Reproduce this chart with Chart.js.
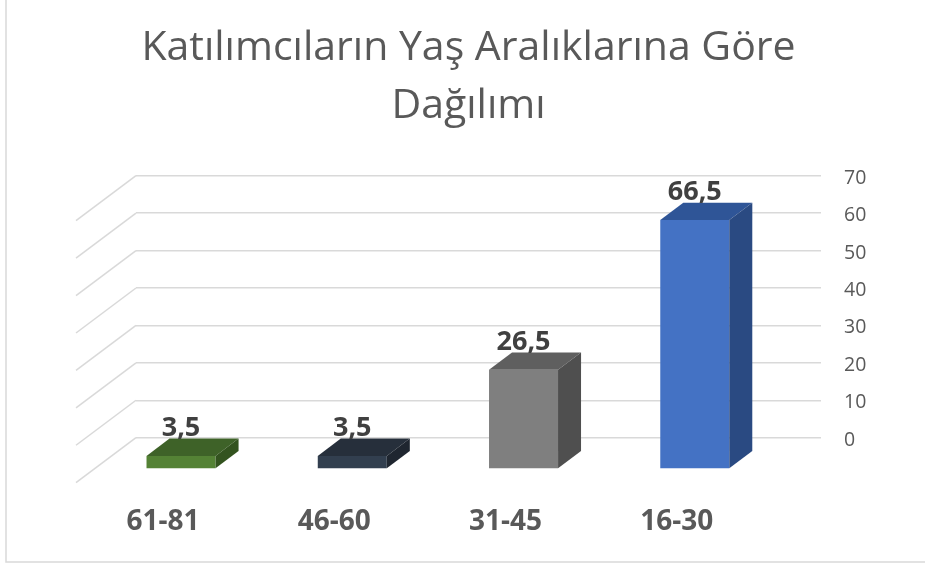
<!DOCTYPE html>
<html lang="tr">
<head>
<meta charset="utf-8">
<title>Katılımcıların Yaş Aralıklarına Göre Dağılımı</title>
<script src="https://cdn.jsdelivr.net/npm/chart.js@4.4.1/dist/chart.umd.min.js"></script>
<style>
  html, body { margin: 0; padding: 0; background: #fff; }
  canvas { display: block; }
</style>
</head>
<body>
<canvas id="ageChart" width="925" height="567"></canvas>
<script>
// ===== Data =====
const ageGroups = ['61-81', '46-60', '31-45', '16-30'];
const shares = [3.5, 3.5, 26.5, 66.5];
const axisMin = 0;
const axisMax = 70;
const axisStep = 10;

// face colours per bar (front / top / side)
const frontColors = ['#548235', '#323f4f', '#7f7f7f', '#4472c4'];
const topColors = ['#3e6228', '#262f3b', '#5f5f5f', '#2f5597'];
const sideColors = ['#33531f', '#1f2630', '#4f4f4f', '#2a4a82'];

// 3D look: side wall depth, bar depth, shift of bar fronts from back wall
const wall = { dx: 60, dy: 45 };
const barDepth = { dx: 23, dy: 17.3 };
const frontShift = { dx: -40.6, dy: 31.3 };

const gridColor = '#d9d9d9';
const textColor = '#595959';
const fontFamily = "'Open Sans', 'Noto Sans', sans-serif";

const pseudo3d = {
  id: 'pseudo3d',
  beforeDraw(chart) {
    const { ctx, width, height } = chart;
    ctx.save();
    ctx.fillStyle = '#fff';
    ctx.fillRect(0, 0, width, height);
    // chart frame (only left and bottom edge visible)
    ctx.strokeStyle = gridColor;
    ctx.lineWidth = 1.5;
    ctx.beginPath();
    ctx.moveTo(6, 0);
    ctx.lineTo(6, 562);
    ctx.lineTo(width, 562);
    ctx.stroke();
    ctx.restore();
  },
  beforeDatasetsDraw(chart) {
    const { ctx, chartArea } = chart;
    const yScale = chart.scales.y;
    // side wall lines
    ctx.save();
    ctx.strokeStyle = gridColor;
    ctx.lineWidth = 1.5;
    yScale.ticks.forEach(t => {
      const py = yScale.getPixelForValue(t.value);
      ctx.beginPath();
      ctx.moveTo(chartArea.left, py);
      ctx.lineTo(chartArea.left - wall.dx, py + wall.dy);
      ctx.stroke();
    });
    ctx.restore();
    // bars stand in front of the back wall
    ctx.save();
    ctx.translate(frontShift.dx, frontShift.dy);
  },
  afterDatasetsDraw(chart) {
    const { ctx } = chart;
    const meta = chart.getDatasetMeta(0);
    meta.data.forEach((bar, i) => {
      const x0 = bar.x - bar.width / 2;
      const x1 = bar.x + bar.width / 2;
      const top = bar.y;
      const base = bar.base;

      // top face
      ctx.fillStyle = topColors[i];
      ctx.beginPath();
      ctx.moveTo(x0, top);
      ctx.lineTo(x1, top);
      ctx.lineTo(x1 + barDepth.dx, top - barDepth.dy);
      ctx.lineTo(x0 + barDepth.dx, top - barDepth.dy);
      ctx.closePath();
      ctx.fill();

      // side face
      ctx.fillStyle = sideColors[i];
      ctx.beginPath();
      ctx.moveTo(x1, top);
      ctx.lineTo(x1 + barDepth.dx, top - barDepth.dy);
      ctx.lineTo(x1 + barDepth.dx, base - barDepth.dy);
      ctx.lineTo(x1, base);
      ctx.closePath();
      ctx.fill();

      // value label
      ctx.fillStyle = '#404040';
      ctx.font = `bold 27px ${fontFamily}`;
      ctx.textAlign = 'center';
      ctx.textBaseline = 'alphabetic';
      ctx.fillText(String(shares[i]).replace('.', ','), bar.x, top - 20);
    });
    ctx.restore();
  }
};

const ctx = document.getElementById('ageChart').getContext('2d');

new Chart(ctx, {
  type: 'bar',
  data: {
    labels: ageGroups,
    datasets: [{
      data: shares,
      backgroundColor: frontColors,
      borderWidth: 0,
      barPercentage: 0.403,
      categoryPercentage: 1,
      clip: false
    }]
  },
  options: {
    responsive: false,
    devicePixelRatio: 1,
    animation: false,
    layout: { padding: { left: 12, right: 0, top: 0, bottom: 0 } },
    plugins: {
      legend: { display: false },
      tooltip: { enabled: false },
      title: {
        display: true,
        text: ['Katılımcıların Yaş Aralıklarına Göre', 'Dağılımı'],
        color: textColor,
        font: { family: fontFamily, size: 41, weight: 'normal', lineHeight: '57.7px' },
        padding: { top: 19.9, bottom: 40.4 }
      }
    },
    scales: {
      x: {
        type: 'category',
        grid: { display: false, drawTicks: false },
        border: { display: false },
        ticks: {
          color: textColor,
          font: { family: fontFamily, size: 28, weight: 'bold' },
          padding: 67.9,
          labelOffset: -58.6,
          maxRotation: 0,
          autoSkip: false
        },
        afterFit: s => { s.height = 129.3; }
      },
      y: {
        position: 'right',
        min: axisMin,
        max: axisMax,
        grid: { color: gridColor, lineWidth: 1.5, drawTicks: false },
        border: { display: false },
        ticks: {
          stepSize: axisStep,
          color: textColor,
          font: { family: fontFamily, size: 19.5 },
          padding: 23,
          labelOffset: 2.5
        },
        afterFit: s => { s.width = 104; }
      },
      // empty axis that only reserves room for the side wall
      yWall: {
        type: 'linear',
        position: 'left',
        display: true,
        grid: { display: false },
        border: { display: false },
        ticks: { display: false },
        afterFit: s => { s.width = 124; }
      }
    }
  },
  plugins: [pseudo3d]
});
</script>
</body>
</html>
